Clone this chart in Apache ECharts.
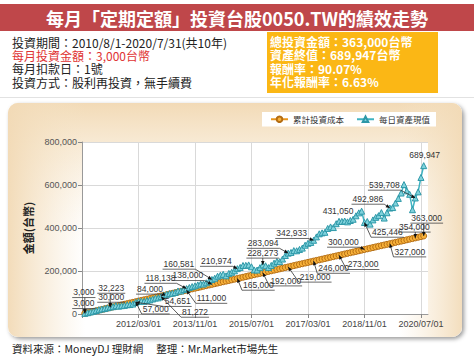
<!DOCTYPE html>
<html><head><meta charset="utf-8">
<script src="https://cdn.jsdelivr.net/npm/echarts@6/dist/echarts.min.js"></script>
<style>html,body{margin:0;padding:0;background:#fff}#c{width:474px;height:361px}</style>
</head><body><div id="c"></div>
<script>
// ---- data ----
const dates = [
 '2010/08/01','2010/09/01','2010/10/01','2010/11/01','2010/12/01',
 '2011/01/01','2011/02/01','2011/03/01','2011/04/01','2011/05/01','2011/06/01','2011/07/01','2011/08/01','2011/09/01','2011/10/01','2011/11/01','2011/12/01',
 '2012/01/01','2012/02/01','2012/03/01','2012/04/01','2012/05/01','2012/06/01','2012/07/01','2012/08/01','2012/09/01','2012/10/01','2012/11/01','2012/12/01',
 '2013/01/01','2013/02/01','2013/03/01','2013/04/01','2013/05/01','2013/06/01','2013/07/01','2013/08/01','2013/09/01','2013/10/01','2013/11/01','2013/12/01',
 '2014/01/01','2014/02/01','2014/03/01','2014/04/01','2014/05/01','2014/06/01','2014/07/01','2014/08/01','2014/09/01','2014/10/01','2014/11/01','2014/12/01',
 '2015/01/01','2015/02/01','2015/03/01','2015/04/01','2015/05/01','2015/06/01','2015/07/01','2015/08/01','2015/09/01','2015/10/01','2015/11/01','2015/12/01',
 '2016/01/01','2016/02/01','2016/03/01','2016/04/01','2016/05/01','2016/06/01','2016/07/01','2016/08/01','2016/09/01','2016/10/01','2016/11/01','2016/12/01',
 '2017/01/01','2017/02/01','2017/03/01','2017/04/01','2017/05/01','2017/06/01','2017/07/01','2017/08/01','2017/09/01','2017/10/01','2017/11/01','2017/12/01',
 '2018/01/01','2018/02/01','2018/03/01','2018/04/01','2018/05/01','2018/06/01','2018/07/01','2018/08/01','2018/09/01','2018/10/01','2018/11/01','2018/12/01',
 '2019/01/01','2019/02/01','2019/03/01','2019/04/01','2019/05/01','2019/06/01','2019/07/01','2019/08/01','2019/09/01','2019/10/01','2019/11/01','2019/12/01',
 '2020/01/01','2020/02/01','2020/03/01','2020/04/01','2020/05/01','2020/06/01','2020/07/01','2020/07/31'
];
const costValues = [
 3000,6000,9000,12000,15000,
 18000,21000,24000,27000,30000,33000,36000,39000,42000,45000,48000,51000,
 54000,57000,60000,63000,66000,69000,72000,75000,78000,81000,84000,87000,
 90000,93000,96000,99000,102000,105000,108000,111000,114000,117000,120000,123000,
 126000,129000,132000,135000,138000,141000,144000,147000,150000,153000,156000,159000,
 162000,165000,168000,171000,174000,177000,180000,183000,186000,189000,192000,195000,
 198000,201000,204000,207000,210000,213000,216000,219000,222000,225000,228000,231000,
 234000,237000,240000,243000,246000,249000,252000,255000,258000,261000,264000,267000,
 270000,273000,276000,279000,282000,285000,288000,291000,294000,297000,300000,303000,
 306000,309000,312000,315000,318000,321000,324000,327000,330000,333000,336000,339000,
 342000,345000,348000,351000,354000,357000,360000,363000
];
const assetValues = [
 3000,6080,9350,12600,16050,
 19950,23100,25300,28850,32223,34300,38150,36600,38700,40100,43150,43900,
 46400,54651,58700,59800,59300,62800,65500,69800,74100,75300,81272,87100,
 91800,94900,96900,100100,107100,107300,113500,118138,123100,127500,130800,135300,
 139900,139300,145200,152500,160581,166400,175700,180800,184500,177500,188800,194000,
 200900,210974,216700,225700,226200,228300,219600,205000,204600,215500,228273,224300,
 215800,226000,236600,244300,243600,255600,272200,283094,286400,294800,294100,300300,
 306500,320000,328800,332900,342933,358600,373000,377400,380000,398000,405000,402000,
 420000,431050,430600,432500,428600,435000,440600,456700,470400,478200,425446,430300,
 418100,437600,449600,457300,471800,446200,471000,492986,495000,516200,537600,562700,
 601900,572700,556800,485000,539708,568000,635000,689947
];
const seriesNames = ['累計投資成本','每日資產現值'];
const xTickLabels = ['2012/03/01','2013/11/01','2015/07/01','2017/03/01','2018/11/01','2020/07/01'];
const yTickLabels = ['0','200,000','400,000','600,000','800,000'];
const annotK = [1,10,19,28,37,46,55,64,73,82,91,100,109,118,121];

// ---- label layout (pixel offsets of label centre from its point) ----
const costOffsets = [[-1,-10],[1,-10.5],[20,7],[-11,-7],[25,8],[-24,-9],[21,6.5],[23,8],[27,10],[20,7],[24,9],[-21,-7.5],[20,8],[-1,-11],[3,-18]];
const assetOffsets = [[-1,-21],[1,-19],[42,-1],[34,15.5],[-26,-10.5],[-33,-15.5],[-21,-7.5],[0,-12],[-25,-10],[-22,-7],[-1,-10,0],[23,9.5],[-22,-9],[-31,-13],[1,-10.5,0]];

const NUMFONT = '"Liberation Sans",Arial,sans-serif';
const CJK = '"Noto Sans CJK TC","Noto Sans CJK SC",sans-serif';
const LBLFONT = '8.5px ' + NUMFONT;

function monthIndex(d){ const p=d.split('/').map(Number); return (p[0]-2010)*12 + (p[1]-7) + (p[2]-1)/30.5; }
const costData = dates.map((d,i)=>[monthIndex(d), costValues[i]]);
const assetData = dates.map((d,i)=>[monthIndex(d), assetValues[i]]);
const annotData = [];
annotK.forEach((k,i)=>{ annotData.push([monthIndex(dates[k-1]), costValues[k-1], i, 0]); });
annotK.forEach((k,i)=>{ annotData.push([monthIndex(dates[k-1]), assetValues[k-1], i, 1]); });

const mctx = document.createElement('canvas').getContext('2d');
function measure(t){ mctx.font = LBLFONT; return mctx.measureText(t).width; }
function fmt(v){ return Number(v).toLocaleString('en-US'); }

function renderAnnot(params, api){
  const i = api.value(2), which = api.value(3);
  const p = api.coord([api.value(0), api.value(1)]);
  const off = (which===0?costOffsets:assetOffsets)[i];
  const txt = fmt(api.value(1));
  const w = measure(txt);
  const cx = p[0]+off[0], cy = p[1]+off[1];
  const ch = [{type:'text', style:{text:txt, x:cx, y:cy, align:'center', verticalAlign:'middle', textAlign:'center', textVerticalAlign:'middle', font:LBLFONT, fill:'#333'}}];
  if (off[2] !== 0) {
    const uy = cy+5.2, x0 = cx-w/2-1, x1 = cx+w/2+1;
    const sx = off[0] > 6 ? x0 : (off[0] < -6 ? x1 : Math.min(Math.max(p[0], x0), x1));
    ch.push({type:'line', shape:{x1:x0,y1:uy,x2:x1,y2:uy}, style:{stroke:'#444', lineWidth:0.8}});
    ch.push({type:'line', shape:{x1:sx,y1:uy,x2:p[0],y2:p[1]}, style:{stroke:'#333', lineWidth:0.8}});
    const ang = Math.atan2(p[1]-uy, p[0]-sx), L=4, W=1.8;
    const bx = p[0]-L*Math.cos(ang), by = p[1]-L*Math.sin(ang);
    ch.push({type:'polygon', shape:{points:[[p[0],p[1]],[bx+W*Math.sin(ang), by-W*Math.cos(ang)],[bx-W*Math.sin(ang), by+W*Math.cos(ang)]]}, style:{fill:'#111'}});
  }
  return {type:'group', children:ch};
}

const panel = {x:8, y:103, width:454, height:234};
const chart = echarts.init(document.getElementById('c'), null, {renderer:'svg'});
chart.setOption({
  animation:false,
  backgroundColor:'#fff',
  graphic:[
    {type:'rect', z:-10, shape:{x:0,y:4,width:474,height:27}, style:{fill:'#bf474a'}},
    {type:'text', z:-5, style:{text:'每月「定期定額」投資台股0050.TW的績效走勢', x:237, y:17.5, align:'center', verticalAlign:'middle', fill:'#fff', fontSize:18, fontWeight:'bold', fontFamily:CJK}},
    {type:'text', z:-5, style:{text:'投資期間：2010/8/1-2020/7/31(共10年)', x:12, y:42.5, verticalAlign:'middle', fill:'#222', fontSize:12, fontFamily:CJK}},
    {type:'text', z:-5, style:{text:'每月投資金額：3,000台幣', x:12, y:55.5, verticalAlign:'middle', fill:'#e03333', fontSize:12, fontFamily:CJK}},
    {type:'text', z:-5, style:{text:'每月扣款日：1號', x:12, y:68.8, verticalAlign:'middle', fill:'#222', fontSize:12, fontFamily:CJK}},
    {type:'text', z:-5, style:{text:'投資方式：股利再投資，無手續費', x:12, y:82, verticalAlign:'middle', fill:'#222', fontSize:12, fontFamily:CJK}},
    {type:'rect', z:-10, shape:{x:267,y:32,width:171,height:61}, style:{fill:'#fbb715'}},
    {type:'text', z:-5, style:{text:'總投資金額：363,000台幣', x:270, y:41.5, verticalAlign:'middle', fill:'#fff', fontSize:12, fontWeight:'bold', fontFamily:CJK}},
    {type:'text', z:-5, style:{text:'資產終值：689,947台幣', x:270, y:54.8, verticalAlign:'middle', fill:'#fff', fontSize:12, fontWeight:'bold', fontFamily:CJK}},
    {type:'text', z:-5, style:{text:'報酬率：90.07%', x:270, y:68.3, verticalAlign:'middle', fill:'#fff', fontSize:12, fontWeight:'bold', fontFamily:CJK}},
    {type:'text', z:-5, style:{text:'年化報酬率：6.63%', x:270, y:81.8, verticalAlign:'middle', fill:'#fff', fontSize:12, fontWeight:'bold', fontFamily:CJK}},
    {type:'line', z:-10, shape:{x1:0,y1:97.5,x2:474,y2:97.5}, style:{stroke:'#e2e2e2', lineWidth:1}},
    {type:'rect', z:-10, shape:{x:panel.x,y:panel.y,width:panel.width,height:panel.height,r:10}, style:{fill:'#fff', shadowBlur:4, shadowOffsetX:2, shadowOffsetY:2, shadowColor:'rgba(0,0,0,0.4)'}},
    {type:'rect', z:-9, shape:{x:panel.x,y:panel.y,width:panel.width,height:panel.height,r:10}, style:{fill:{type:'linear',x:0,y:0,x2:0,y2:1,colorStops:[{offset:0,color:'rgba(242,218,182,1)'},{offset:0.2,color:'rgba(245,226,196,0.65)'},{offset:0.6,color:'rgba(250,240,225,0)'}]}}},
    {type:'rect', z:-9, shape:{x:panel.x,y:panel.y,width:panel.width,height:panel.height,r:10}, style:{fill:{type:'linear',x:0,y:0,x2:1,y2:0,colorStops:[{offset:0,color:'rgba(242,218,182,0.95)'},{offset:0.17,color:'rgba(245,228,200,0)'},{offset:0.86,color:'rgba(245,228,200,0)'},{offset:1,color:'rgba(242,218,182,0.9)'}]}}},
    {type:'text', z:-5, style:{text:'資料來源：MoneyDJ 理財網　 整理：Mr.Market市場先生', x:12, y:348.5, verticalAlign:'middle', fill:'#222', fontSize:10.5, fontFamily:CJK}}
  ],
  legend:{
    data:seriesNames, top:112, right:38, backgroundColor:'#fff', padding:[3,6,3,8], itemGap:12, itemWidth:17, itemHeight:7,
    textStyle:{fontSize:8.5, color:'#333', fontFamily:CJK}
  },
  grid:{left:82, top:142, right:46, bottom:47, show:true, backgroundColor:'#fff', borderWidth:0},
  xAxis:{
    type:'value', min:0, max:122.5, interval:20,
    axisLine:{show:true, lineStyle:{color:'#999'}},
    axisTick:{show:true, length:4, lineStyle:{color:'#888'}},
    splitLine:{show:true, showMaxLine:false, lineStyle:{color:'#d9d9d9'}},
    axisLabel:{showMaxLabel:false, margin:5, fontSize:9, color:'#444', fontFamily:NUMFONT,
      formatter:v=> (v>0 && v%20===0) ? (xTickLabels[v/20-1]||'') : ''}
  },
  yAxis:{
    type:'value', min:0, max:800000, interval:200000,
    name:'金額(台幣)', nameLocation:'middle', nameGap:39, nameRotate:90,
    nameTextStyle:{fontSize:11, fontWeight:'bold', color:'#222', fontFamily:CJK},
    axisLine:{show:true, lineStyle:{color:'#999'}},
    axisTick:{show:true, length:4, lineStyle:{color:'#888'}},
    splitLine:{show:true, lineStyle:{color:'#d9d9d9'}},
    axisLabel:{margin:5, fontSize:9, color:'#555', fontFamily:NUMFONT, formatter:v=>yTickLabels[Math.round(v/200000)]}
  },
  series:[
    {name:seriesNames[0], type:'line', data:costData, symbol:'circle', symbolSize:6, z:3,
     lineStyle:{color:'#e8951c', width:2}, itemStyle:{color:'#f7b13a', borderColor:'#b46c12', borderWidth:1}},
    {name:seriesNames[1], type:'line', data:assetData, symbol:'triangle', symbolSize:6, z:4,
     lineStyle:{color:'#3fb3c2', width:1.5}, itemStyle:{color:'#80d2dc', borderColor:'#2d98a8', borderWidth:1}},
    {type:'custom', data:annotData, renderItem:renderAnnot, clip:false, silent:true, z:6, encode:{x:0,y:1}}
  ]
});
</script>
</body></html>
